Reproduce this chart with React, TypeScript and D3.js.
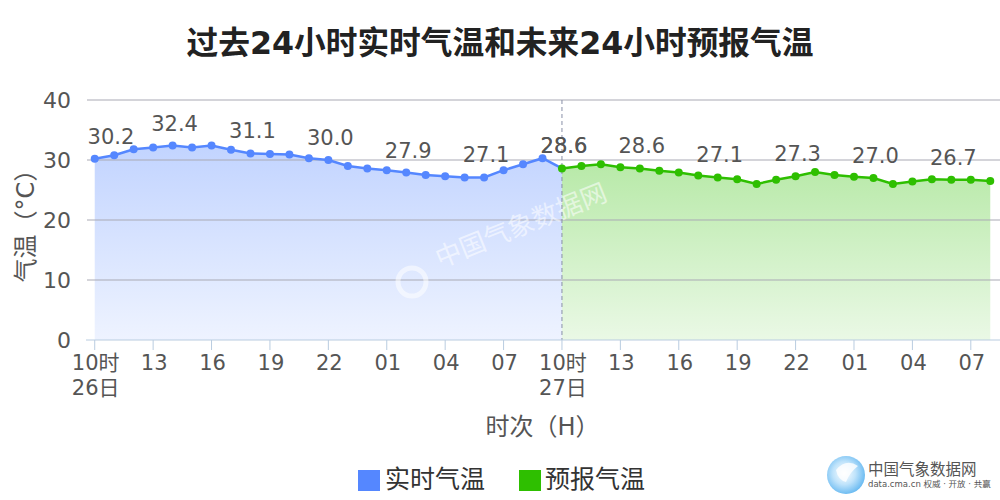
import React from "react";
import * as d3 from "d3";

const TITLE = "过去24小时实时气温和未来24小时预报气温";
const Y_TITLE = "气温（°C）";
const X_TITLE = "时次（H）";
const LEGEND = ["实时气温", "预报气温"];

// 47 hourly categories: 26日10时 -> 28日08时
const categories = [
  "10时\n26日", "11", "12", "13", "14", "15", "16", "17", "18", "19", "20", "21", "22", "23",
  "00", "01", "02", "03", "04", "05", "06", "07", "08", "09",
  "10时\n27日", "11", "12", "13", "14", "15", "16", "17", "18", "19", "20", "21", "22", "23",
  "00", "01", "02", "03", "04", "05", "06", "07", "08",
];

// observed (index 0..24)
const observed = [
  30.2, 30.8, 31.8, 32.1, 32.4, 32.1, 32.4, 31.7, 31.1, 31.0, 30.9, 30.3, 30.0,
  29.0, 28.6, 28.3, 27.9, 27.5, 27.3, 27.1, 27.1, 28.3, 29.3, 30.3, 28.6,
];
// forecast (index 24..46)
const forecastStart = 24;
const forecast = [
  28.6, 29.0, 29.3, 28.8, 28.6, 28.2, 27.9, 27.4, 27.1, 26.8, 26.0, 26.7, 27.3,
  28.0, 27.5, 27.2, 27.0, 26.0, 26.4, 26.8, 26.7, 26.7, 26.5,
];

const yTicks = [0, 10, 20, 30, 40];

const W = 1000;
const H = 500;
const M = { left: 85, right: 1000, top: 100, bottom: 340 };
const FONT = "'DejaVu Sans', 'Noto Sans CJK SC', sans-serif";
const BLUE = "#5587ff";
const GREEN = "#2ebf00";

export default function App() {
  const x = d3
    .scalePoint<number>()
    .domain(d3.range(categories.length))
    .range([M.left, M.right])
    .padding(0.5);
  const y = d3.scaleLinear().domain([0, 40]).range([M.bottom, M.top]);

  const obsPts = observed.map((v, i) => ({ i, v }));
  const fcPts = forecast.map((v, k) => ({ i: k + forecastStart, v }));

  const line = d3
    .line<{ i: number; v: number }>()
    .x((d) => x(d.i)!)
    .y((d) => y(d.v));
  const area = d3
    .area<{ i: number; v: number }>()
    .x((d) => x(d.i)!)
    .y0(y(0))
    .y1((d) => y(d.v));

  const tickIdx = d3.range(0, categories.length, 3);
  const labelIdxObs = obsPts.filter((d) => d.i % 4 === 0);
  const labelIdxFc = fcPts.filter((d) => d.i % 4 === 0);
  const splitX = x(forecastStart)!;

  const labelX = (i: number) => Math.max(x(i)! + 2, M.left + 26);

  return (
    <svg
      width={W}
      height={H}
      style={{ position: "absolute", left: 0, top: 0, background: "#fff" }}
      fontFamily={FONT}
    >
      <defs>
        <linearGradient id="gBlue" x1="0" y1="0" x2="0" y2="1">
          <stop offset="0" stopColor={BLUE} stopOpacity={0.36} />
          <stop offset="1" stopColor={BLUE} stopOpacity={0.1} />
        </linearGradient>
        <linearGradient id="gGreen" x1="0" y1="0" x2="0" y2="1">
          <stop offset="0" stopColor={GREEN} stopOpacity={0.34} />
          <stop offset="1" stopColor={GREEN} stopOpacity={0.1} />
        </linearGradient>
        <radialGradient id="logoG" cx="0.45" cy="0.45" r="0.6">
          <stop offset="0" stopColor="#ffffff" />
          <stop offset="0.5" stopColor="#bfe3fb" />
          <stop offset="1" stopColor="#5fb5f0" />
        </radialGradient>
      </defs>

      {/* title */}
      <text
        x={500}
        y={54}
        textAnchor="middle"
        fontSize={31.7}
        fontWeight="bold"
        fill="#222"
      >
        {TITLE}
      </text>

      {/* areas */}
      <path d={area(obsPts)!} fill="url(#gBlue)" />
      <path d={area(fcPts)!} fill="url(#gGreen)" />

      {/* grid */}
      {yTicks.slice(1).map((t) => (
        <line
          key={t}
          x1={M.left + 2}
          x2={M.right}
          y1={y(t)}
          y2={y(t)}
          stroke="#a9a9b4"
          strokeWidth={1}
        />
      ))}
      {yTicks.map((t) => (
        <text
          key={t}
          x={71}
          y={y(t) + 8}
          textAnchor="end"
          fontSize={22}
          fill="#555"
        >
          {t}
        </text>
      ))}

      {/* y title */}
      <text
        transform={`translate(34,${(M.top + M.bottom) / 2}) rotate(-90)`}
        textAnchor="middle"
        fontSize={24}
        fill="#555"
      >
        {Y_TITLE}
      </text>

      {/* watermark */}
      <g opacity={0.55}>
        <circle cx={412} cy={282} r={14} fill="none" stroke="#fff" strokeWidth={5} />
        <text
          transform="translate(440,268) rotate(-22)"
          fontSize={26}
          fill="#fff"
        >
          中国气象数据网
        </text>
      </g>

      {/* split line */}
      <line
        x1={splitX}
        x2={splitX}
        y1={M.top}
        y2={M.bottom}
        stroke="#8890a8"
        strokeDasharray="4,3"
        strokeWidth={1}
      />

      {/* x axis */}
      <line x1={M.left + 1} x2={M.right} y1={M.bottom} y2={M.bottom} stroke="#b9cce0" />
      {tickIdx.map((i) => {
        const parts = categories[i].split("\n");
        return (
          <g key={i}>
            <line x1={x(i)} x2={x(i)} y1={M.bottom} y2={M.bottom + 10} stroke="#b9cce0" />
            <text x={x(i)! + 1} y={370} textAnchor="middle" fontSize={21} fill="#555">
              {parts[0]}
            </text>
            {parts[1] && (
              <text x={x(i)! + 1} y={395} textAnchor="middle" fontSize={21} fill="#555">
                {parts[1]}
              </text>
            )}
          </g>
        );
      })}
      <text x={(M.left + M.right) / 2} y={435} textAnchor="middle" fontSize={24} fill="#555">
        {X_TITLE}
      </text>

      {/* lines */}
      <path d={line(obsPts)!} fill="none" stroke={BLUE} strokeWidth={2.5} />
      <path d={line(fcPts)!} fill="none" stroke={GREEN} strokeWidth={2.5} />
      {obsPts.slice(0, -1).map((d) => (
        <circle key={"o" + d.i} cx={x(d.i)} cy={y(d.v)} r={4} fill={BLUE} />
      ))}
      {fcPts.map((d) => (
        <circle key={"f" + d.i} cx={x(d.i)} cy={y(d.v)} r={4} fill={GREEN} />
      ))}

      {/* value labels */}
      {labelIdxObs.map((d) => (
        <text
          key={"lo" + d.i}
          x={labelX(d.i)}
          y={y(d.v) - 15}
          textAnchor="middle"
          fontSize={21}
          fill="#555"
        >
          {d.v.toFixed(1)}
        </text>
      ))}
      {labelIdxFc.map((d) => (
        <text
          key={"lf" + d.i}
          x={labelX(d.i)}
          y={y(d.v) - 15}
          textAnchor="middle"
          fontSize={21}
          fill="#555"
        >
          {d.v.toFixed(1)}
        </text>
      ))}

      {/* legend */}
      <rect x={358} y={470} width={22} height={21} fill={BLUE} />
      <text x={385} y={488} fontSize={25} fill="#333">
        {LEGEND[0]}
      </text>
      <rect x={519} y={470} width={22} height={21} fill={GREEN} />
      <text x={545} y={488} fontSize={25} fill="#333">
        {LEGEND[1]}
      </text>

      {/* logo */}
      <g>
        <circle cx={846} cy={475} r={19} fill="url(#logoG)" />
        <path
          d="M836,470 Q846,458 858,466 Q850,472 846,482 Q838,480 836,470 Z"
          fill="#fff"
          opacity={0.8}
        />
        <text x={868} y={475} fontSize={15.5} fill="#555">
          中国气象数据网
        </text>
        <text x={868} y={487} fontSize={8.5} fill="#555">
          data.cma.cn 权威 · 开放 · 共赢
        </text>
      </g>
    </svg>
  );
}
